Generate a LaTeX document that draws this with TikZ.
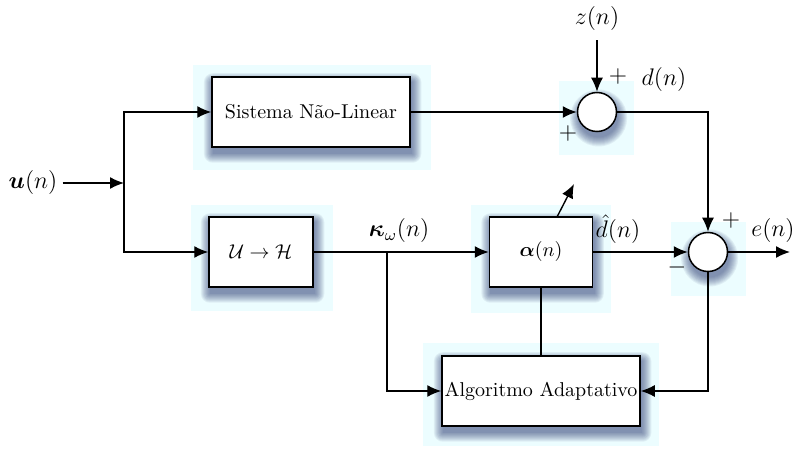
\documentclass[tikz,border=0pt]{standalone}
\usepackage{amsmath}
\usepackage{bm}
\usetikzlibrary{arrows.meta,calc}
\pgfdeclarelayer{glowl}
\pgfdeclarelayer{shadl}
\pgfsetlayers{glowl,shadl,main}
\definecolor{glow}{RGB}{236,253,255}
\definecolor{shadowblue}{RGB}{45,60,115}
\tikzset{
  blockbox/.style={draw, line width=0.75pt, fill=white, inner sep=0pt},
  sumnode/.style={circle, draw, line width=0.75pt, fill=white, minimum size=19.5pt, inner sep=0pt},
  conn/.style={line width=0.7pt},
  arr/.style={conn, -{Latex[length=7pt,width=6pt]}},
  lbl/.style={inner sep=0pt, font=\large},
  shadowlayer/.style={fill=shadowblue, opacity=0.075},
}
\begin{document}
\begin{tikzpicture}[x=0.5pt,y=-0.5pt]
\useasboundingbox (0,0) rectangle (800,449);
% blocks
\node[blockbox, minimum width=99pt, minimum height=35pt] (sis) at (311,112) {Sistema Não-Linear};
\node[blockbox, minimum width=52pt, minimum height=35pt] (uh) at (261,252) {$\mathcal{U}\rightarrow\mathcal{H}$};
\node[blockbox, minimum width=51.5pt, minimum height=35pt] (alp) at (541,252) {$\bm{\alpha}(n)$};
\node[blockbox, minimum width=99pt, minimum height=35pt] (alg) at (541,391) {Algoritmo Adaptativo};
\node[sumnode] (s1) at (597,112) {};
\node[sumnode] (s2) at (708,252) {};
% glow backgrounds
\begin{pgfonlayer}{glowl}
\fill[glow] (193,65) rectangle (431,170);
\fill[glow] (191,205) rectangle (333,311);
\fill[glow] (471,205) rectangle (611,313);
\fill[glow] (423,343) rectangle (659,446);
\fill[glow] (559,81) rectangle (634,155);
\fill[glow] (671,222) rectangle (746,296);
\end{pgfonlayer}
% shadows
\begin{pgfonlayer}{shadl}
\foreach \n in {sis,uh,alp,alg}{
  \foreach \r in {0,0.5,...,4.5}{
    \fill[shadowlayer, rounded corners=\r pt]
      ($(\n.south west)+(0.8pt-\r pt,-3pt-\r pt)$) rectangle ($(\n.north east)+(0.8pt+\r pt,-3pt+\r pt)$);
  }
}
\foreach \n in {s1,s2}{
  \foreach \r in {0,0.5,...,4.5}{
    \fill[shadowlayer] ($(\n.center)+(0.8pt,-3pt)$) circle[radius=9.75pt+\r pt];
  }
}
\end{pgfonlayer}
% labels
\node[lbl] (u) at (33,183) {$\bm{u}(n)$};
\node[lbl] (z) at (597,19) {$z(n)$};
\node[lbl] at (664,80) {$d(n)$};
\node[lbl] at (773,231) {$e(n)$};
\node[lbl] at (618,229) {$\hat{d}(n)$};
\node[lbl] at (399,231) {$\bm{\kappa}_{\omega}(n)$};
\node[lbl] at (618,77) {$+$};
\node[lbl] at (568,134) {$+$};
\node[lbl] at (677,268) {$-$};
\node[lbl] at (731,221) {$+$};
% coordinates
\coordinate (j1) at (124,183);
\coordinate (br) at (387,252);
\coordinate (out) at (790,252);
\coordinate (adjA) at (557,217);
\coordinate (adjB) at (574,184);
% connectors
\draw[arr] (u.east) ++(5,0) -- (j1);
\draw[arr] (j1) |- (sis.west);
\draw[arr] (j1) |- (uh.west);
\draw[arr] (sis.east) -- (s1.west);
\draw[arr] (z.south) ++(0,9) -- (s1.north);
\draw[arr] (s1.east) -| (s2.north);
\draw[arr] (uh.east) -- (alp.west);
\draw[arr] (br) |- (alg.west);
\draw[arr] (alp.east) -- (s2.west);
\draw[arr] (s2.east) -- (out);
\draw[arr] (s2.south) |- (alg.east);
\draw[conn] (alp.south) -- (alg.north);
\draw[arr] (adjA) -- (adjB);
\end{tikzpicture}
\end{document}
